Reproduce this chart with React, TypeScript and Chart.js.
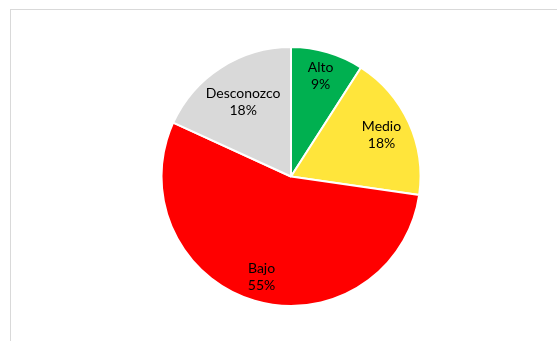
import React, { useEffect, useRef } from "react";
import { Chart, registerables } from "chart.js";

Chart.register(...registerables);

const categories = ["Alto", "Medio", "Bajo", "Desconozco"];
const counts = [2, 4, 12, 4];
const percentLabels = ["9%", "18%", "55%", "18%"];
const colors = ["#00B050", "#FFE53B", "#FF0000", "#D9D9D9"];

const labelPlugin = {
  id: "sliceLabels",
  afterDatasetsDraw(chart: any) {
    const ctx = chart.ctx;
    const meta = chart.getDatasetMeta(0);
    ctx.save();
    ctx.font = "14px Lato";
    ctx.fillStyle = "#000000";
    ctx.textAlign = "center";
    ctx.textBaseline = "middle";
    const lineGap = 17.5;
    const boxH = 32;
    const pad = 5;
    meta.data.forEach((arc: any, i: number) => {
      const p = arc.getProps(["x", "y", "startAngle", "endAngle", "outerRadius"], true);
      const mid = (p.startAngle + p.endAngle) / 2;
      const w = Math.max(ctx.measureText(categories[i]).width, ctx.measureText(percentLabels[i]).width);
      const ux = Math.cos(mid);
      const uy = Math.sin(mid);
      let d = p.outerRadius;
      while (d > 0) {
        const cx = ux * d;
        const cy = uy * d;
        let ok = true;
        for (const sx of [-1, 1]) {
          for (const sy of [-1, 1]) {
            const qx = cx + (sx * w) / 2;
            const qy = cy + (sy * boxH) / 2;
            if (Math.hypot(qx, qy) > p.outerRadius - pad) ok = false;
          }
        }
        if (ok) break;
        d -= 0.5;
      }
      const x = p.x + ux * d;
      const y = p.y + uy * d;
      ctx.fillText(categories[i], x, y - lineGap / 2);
      ctx.fillText(percentLabels[i], x, y + lineGap / 2);
    });
    ctx.restore();
  },
};

export default function App() {
  const ref = useRef<HTMLCanvasElement>(null);
  useEffect(() => {
    const chart = new Chart(ref.current!, {
      type: "pie",
      data: {
        labels: categories,
        datasets: [
          {
            data: counts,
            backgroundColor: colors,
            borderColor: "#FFFFFF",
            borderWidth: 2,
          },
        ],
      },
      options: {
        animation: false,
        responsive: false,
        maintainAspectRatio: false,
        layout: { padding: { left: 141, right: 116, top: 46, bottom: 34 } },
        plugins: { legend: { display: false }, tooltip: { enabled: false } },
      },
      plugins: [labelPlugin],
    });
    return () => chart.destroy();
  }, []);
  return (
    <div style={{ position: "fixed", left: 0, top: 0, width: 557, height: 341, background: "#fff", overflow: "hidden" }}>
      <div
        style={{
          position: "absolute",
          left: 10,
          top: 9,
          width: 600,
          height: 400,
          border: "1px solid #D9D9D9",
        }}
      />
      <canvas ref={ref} width={557} height={341} style={{ position: "absolute", left: 0, top: 0 }} />
    </div>
  );
}
